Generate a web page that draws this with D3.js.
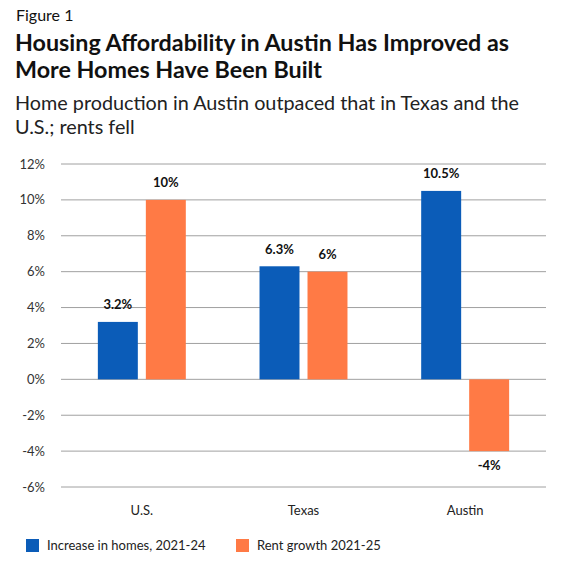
<!DOCTYPE html>
<html>
<head>
<meta charset="utf-8">
<script src="https://cdn.jsdelivr.net/npm/d3@7"></script>
<style>
  body { margin: 0; background: #fff; }
  text { font-family: Lato, "Noto Sans", sans-serif; }
</style>
</head>
<body>
<div id="chart"></div>
<script>
const categories = ['U.S.', 'Texas', 'Austin'];
const seriesNames = ['Increase in homes, 2021-24', 'Rent growth 2021-25'];
const homesIncrease = [3.2, 6.3, 10.5];
const rentGrowth = [10, 6, -4];
const valueLabels = [['3.2%', '6.3%', '10.5%'], ['10%', '6%', '-4%']];
const yTicks = [-6, -4, -2, 0, 2, 4, 6, 8, 10, 12];

const width = 570, height = 568;
const colors = ['#0b5cb8', '#ff7a45'];

const svg = d3.select('#chart').append('svg')
  .attr('width', width).attr('height', height);

// heading block
svg.append('text').attr('x', 16).attr('y', 21)
  .attr('font-size', 16).attr('fill', '#111').text('Figure 1');
const title = svg.append('text').attr('font-size', 23.3).attr('font-weight', 700).attr('fill', '#111');
title.append('tspan').attr('x', 15).attr('y', 51).text('Housing Affordability in Austin Has Improved as');
title.append('tspan').attr('x', 15).attr('y', 78).text('More Homes Have Been Built');
const sub = svg.append('text').attr('font-size', 19.8).attr('fill', '#222');
sub.append('tspan').attr('x', 15).attr('y', 110).text('Home production in Austin outpaced that in Texas and the');
sub.append('tspan').attr('x', 15).attr('y', 134).text('U.S.; rents fell');

const x0 = d3.scaleBand().domain(categories).range([61, 546]).padding(0);
const x1 = d3.scaleBand().domain(seriesNames).range([0, x0.bandwidth()])
  .paddingInner(0.167).paddingOuter(0.768);
const y = d3.scaleLinear().domain([-6, 12]).range([487, 164]);

// grid + y labels
svg.append('g').selectAll('line').data(yTicks).join('line')
  .attr('x1', 61).attr('x2', 546)
  .attr('y1', d => y(d)).attr('y2', d => y(d))
  .attr('stroke', '#a0a0a0').attr('stroke-width', 1);

svg.append('g').selectAll('text').data(yTicks).join('text')
  .attr('x', 45).attr('y', d => y(d)).attr('dy', '0.35em')
  .attr('text-anchor', 'end').attr('font-size', 13).attr('fill', '#333')
  .text(d => d + '%');

const series = [homesIncrease, rentGrowth];
const bars = [];
series.forEach((vals, si) => {
  vals.forEach((v, ci) => bars.push({ s: si, c: categories[ci], v, label: valueLabels[si][ci] }));
});

svg.append('g').selectAll('rect').data(bars).join('rect')
  .attr('x', d => x0(d.c) + x1(seriesNames[d.s]))
  .attr('width', x1.bandwidth())
  .attr('y', d => y(Math.max(0, d.v)))
  .attr('height', d => Math.abs(y(d.v) - y(0)))
  .attr('fill', d => colors[d.s]);

svg.append('g').selectAll('text').data(bars).join('text')
  .attr('x', d => x0(d.c) + x1(seriesNames[d.s]) + x1.bandwidth() / 2)
  .attr('y', d => d.v >= 0 ? y(d.v) - 12.5 : y(d.v) + 19)
  .attr('text-anchor', 'middle').attr('font-size', 13).attr('font-weight', 700)
  .attr('fill', '#111').text(d => d.label);

// category labels
svg.append('g').selectAll('text').data(categories).join('text')
  .attr('x', d => x0(d) + x0.bandwidth() / 2).attr('y', 515)
  .attr('text-anchor', 'middle').attr('font-size', 13).attr('fill', '#222')
  .text(d => d);

// legend
const legendX = [26, 236];
const lg = svg.append('g').selectAll('g').data(seriesNames).join('g')
  .attr('transform', (d, i) => `translate(${legendX[i]},539)`);
lg.append('rect').attr('width', 13).attr('height', 13).attr('fill', (d, i) => colors[i]);
lg.append('text').attr('x', 21).attr('y', 11).attr('font-size', 13).attr('fill', '#222')
  .text(d => d);
</script>
</body>
</html>
